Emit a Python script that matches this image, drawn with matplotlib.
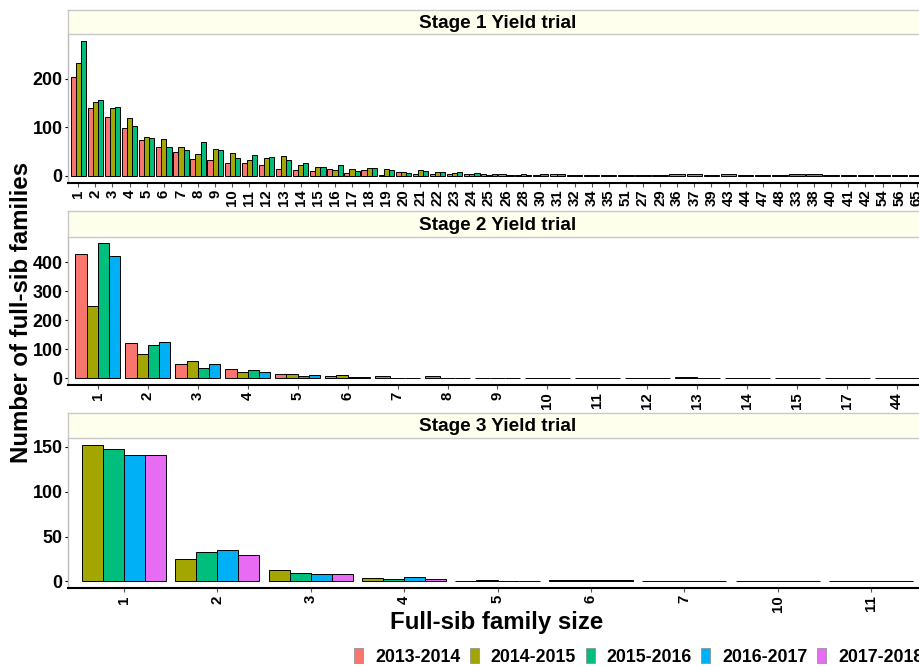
import matplotlib
matplotlib.use('Agg')
import matplotlib.pyplot as plt
from matplotlib.patches import Patch

plt.rcParams['font.family'] = ['Liberation Sans', 'DejaVu Sans']
plt.rcParams['font.weight'] = 'bold'

seasons = ['2013-2014', '2014-2015', '2015-2016', '2016-2017', '2017-2018']
season_colors = ['#F8766D', '#A3A500', '#00BF7D', '#00B0F6', '#E76BF3']

# Stage 1 (seasons 0,1,2)
st1_cats = [str(i) for i in range(1, 26)] + ['26', '28', '30', '31', '32', '34', '35', '51', '27', '29', '36', '37',
                                             '39', '43', '44', '47', '48', '33', '38', '40', '41', '42', '54', '56', '65']
st1_1314 = [204, 140, 121, 98, 74, 60, 49, 35, 33, 26, 27, 22, 15, 12, 10, 15, 7, 12, 2, 8, 4, 5, 5, 5, 3,
            3, 1, 0, 3, 1, 0, 0, 0, 1, 0, 0, 0, 1, 0, 0, 0, 0, 0, 0, 0, 0, 0, 0, 0, 0]
st1_1415 = [232, 152, 139, 119, 81, 76, 60, 45, 55, 47, 32, 36, 41, 23, 18, 12, 14, 16, 15, 8, 12, 8, 6, 3, 2,
            0, 4, 2, 0, 0, 1, 1, 0, 0, 1, 3, 3, 0, 3, 1, 0, 0, 0, 0, 1, 0, 0, 1, 0, 0]
st1_1516 = [277, 155, 141, 102, 78, 60, 53, 69, 53, 37, 44, 39, 33, 27, 19, 22, 10, 17, 12, 7, 10, 8, 9, 6, 4,
            2, 1, 4, 3, 0, 0, 0, 1, 0, 1, 0, 0, 1, 0, 0, 1, 1, 3, 3, 0, 1, 1, 0, 1, 1]

# Stage 2 (seasons 0..3)
st2_cats = ['1', '2', '3', '4', '5', '6', '7', '8', '9', '10', '11', '12', '13', '14', '15', '17', '44']
st2_1314 = [428, 120, 48, 32, 15, 7, 0, 0, 1, 0, 0, 0, 0, 1, 0, 0, 1]
st2_1415 = [250, 84, 60, 20, 15, 11, 8, 8, 2, 0, 0, 2, 4, 0, 0, 0, 0]
st2_1516 = [465, 116, 37, 28, 8, 5, 1, 2, 0, 0, 1, 0, 0, 0, 1, 0, 0]
st2_1617 = [423, 124, 49, 20, 11, 5, 1, 1, 1, 1, 0, 0, 1, 0, 0, 1, 0]

# Stage 3 (seasons 1..4)
st3_cats = ['1', '2', '3', '4', '5', '6', '7', '10', '11']
st3_1415 = [152, 25, 13, 4, 1, 0, 1, 0, 0]
st3_1516 = [148, 33, 9, 3, 2, 0, 0, 0, 0]
st3_1617 = [141, 35, 8, 5, 1, 2, 0, 0, 0]
st3_1718 = [141, 29, 8, 3, 1, 0, 0, 1, 1]

panels = [
    ('Stage 1 Yield trial', st1_cats, [st1_1314, st1_1415, st1_1516], [0, 1, 2], [0, 100, 200]),
    ('Stage 2 Yield trial', st2_cats, [st2_1314, st2_1415, st2_1516, st2_1617], [0, 1, 2, 3], [0, 100, 200, 300, 400]),
    ('Stage 3 Yield trial', st3_cats, [st3_1415, st3_1516, st3_1617, st3_1718], [1, 2, 3, 4], [0, 50, 100, 150]),
]

W, H = 919, 666
fig = plt.figure(figsize=(W / 100, H / 100), dpi=100)

left_px, right_px = 68, 927
# (strip top, strip bottom / panel top, panel bottom) in pixels
rows = [(9.5, 34.3, 182.7), (210.7, 236.7, 385), (412.7, 438.3, 588.3)]

for (title, cats, series, keys, yticks), (s_top, p_top, p_bot) in zip(panels, rows):
    ax = fig.add_axes([left_px / W, 1 - p_bot / H, (right_px - left_px) / W, (p_bot - p_top) / H])
    sx = fig.add_axes([left_px / W, 1 - p_top / H, (right_px - left_px) / W, (p_top - s_top) / H])

    # dodge like ggplot: seasons present in a category share the 0.9 width
    xs, hs, ws, cs = [], [], [], []
    for i in range(len(cats)):
        present = [(k, vals[i]) for k, vals in zip(keys, series) if vals[i] > 0]
        w = 0.9 / len(present)
        for j, (k, v) in enumerate(present):
            xs.append(i - 0.45 + w * (j + 0.5))
            hs.append(v)
            ws.append(w)
            cs.append(season_colors[k])
    ax.bar(xs, hs, width=ws, color=cs, edgecolor='black', linewidth=0.7)

    ymax = max(max(s) for s in series)
    ax.set_ylim(-0.05 * ymax, 1.05 * ymax)
    ax.set_xlim(-0.6, len(cats) - 0.4)
    ax.set_yticks(yticks)
    ax.set_xticks(range(len(cats)))
    ax.set_xticklabels(cats, rotation=90, fontsize=10.8, fontweight='bold')
    ax.tick_params(axis='y', labelsize=12.9, length=2.5, width=0.8, pad=1.5)
    ax.tick_params(axis='x', length=3, width=0.8, color='#555555', pad=2)
    for lab in ax.get_yticklabels():
        lab.set_fontweight('bold')
    ax.spines['top'].set_visible(False)
    ax.spines['right'].set_visible(False)
    ax.spines['left'].set_color('#BBBBBB')
    ax.spines['left'].set_linewidth(1)
    ax.spines['bottom'].set_color('black')
    ax.spines['bottom'].set_linewidth(1.5)

    sx.set_facecolor('#FFFFEE')
    sx.set_xticks([])
    sx.set_yticks([])
    for sp in sx.spines.values():
        sp.set_color('#C8C8C8')
        sp.set_linewidth(1)
    sx.text(0.5, 0.45, title, transform=sx.transAxes, ha='center', va='center',
            fontsize=13.7, fontweight='bold')

fig.text(22 / W, 1 - 312 / H, 'Number of full-sib families', rotation=90, ha='center', va='center',
         fontsize=17.3, fontweight='bold')
fig.text(497 / W, 1 - 622 / H, 'Full-sib family size', ha='center', va='center',
         fontsize=17.3, fontweight='bold')

handles = [Patch(facecolor=c, edgecolor='#888888', linewidth=0.5) for c in season_colors]
fig.legend(handles, seasons, loc='center left', bbox_to_anchor=(354 / W, 1 - 657 / H), ncol=5,
           frameon=False, prop={'weight': 'bold', 'size': 12.8}, handlelength=0.5, handleheight=0.95,
           handletextpad=0.68, columnspacing=0.54, borderpad=0, borderaxespad=0)

plt.savefig('out.png', dpi=100)
